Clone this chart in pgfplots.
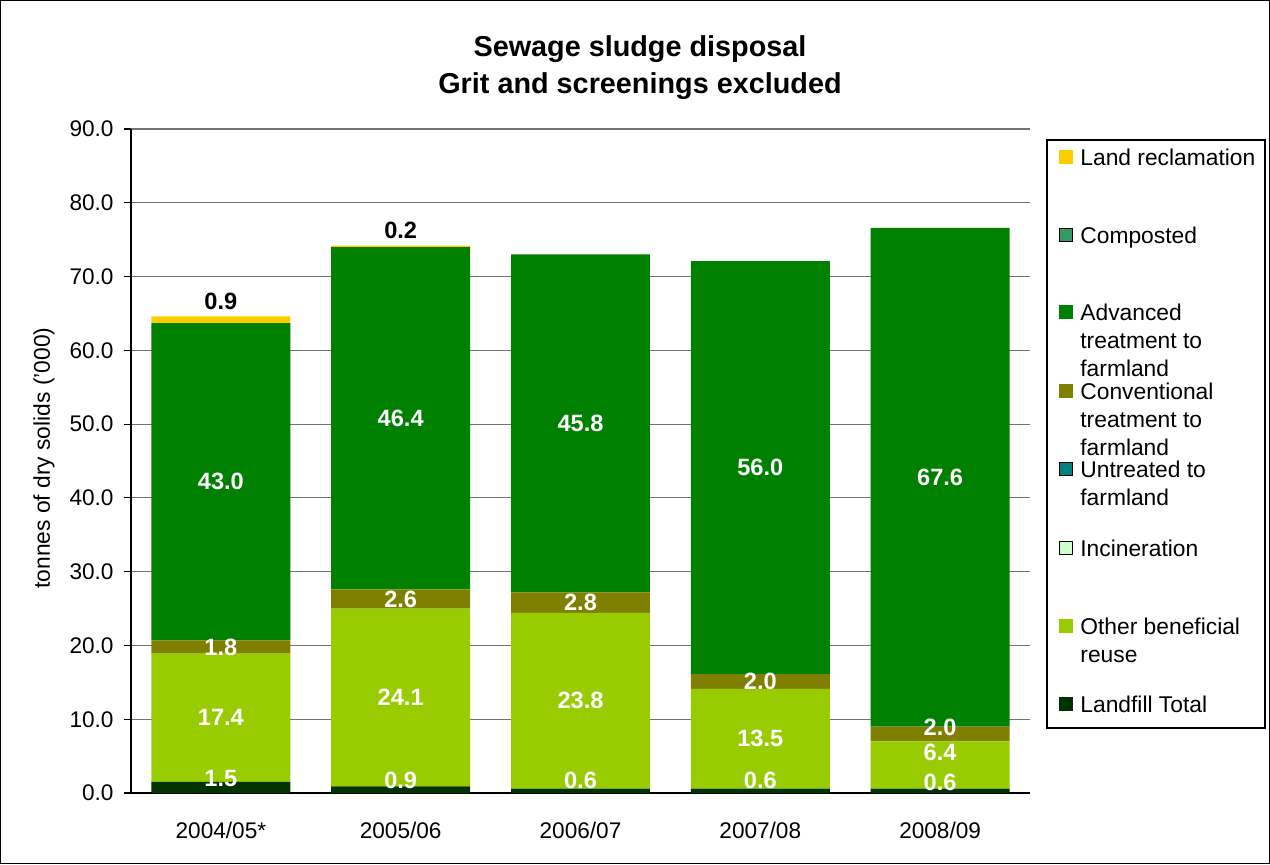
\documentclass[border=0pt]{standalone}
\usepackage{fontspec}
\setmainfont{Liberation Sans}
\usepackage{pgfplots}
\usepackage{pgfplotstable}
\pgfplotsset{compat=1.18}

\definecolor{landrec}{HTML}{FFCC00}
\definecolor{compost}{HTML}{339966}
\definecolor{advanced}{HTML}{008000}
\definecolor{conv}{HTML}{808000}
\definecolor{untreated}{HTML}{008080}
\definecolor{incin}{HTML}{CCFFCC}
\definecolor{otherreuse}{HTML}{99CC00}
\definecolor{landfill}{HTML}{003300}

% tonnes of dry solids ('000), bottom to top of each stack
\pgfplotstableread{
x landfill other incin untreated conv adv compost landrec
0 1.5 17.4 0 0 1.8 43.0 0 0.9
1 0.9 24.1 0 0 2.6 46.4 0 0.2
2 0.6 23.8 0 0 2.8 45.8 0 0.0
3 0.6 13.5 0 0 2.0 56.0 0 0.0
4 0.6  6.4 0 0 2.0 67.6 0 0.0
}\sludge

% data label positions (as Excel placed them)
\pgfplotstableread{
x y l
0 2.0 1.5
0 10.2 17.4
0 19.8 1.8
0 42.2 43.0
1 1.75 0.9
1 12.95 24.1
1 26.3 2.6
1 50.8 46.4
2 1.75 0.6
2 12.5 23.8
2 25.8 2.8
2 50.1 45.8
3 1.75 0.6
3 7.35 13.5
3 15.1 2.0
3 44.1 56.0
4 1.5 0.6
4 5.5 6.4
4 8.9 2.0
4 42.8 67.6
}\whitelabels

\pgfplotstableread{
x y l
0 66.6 0.9
1 76.2 0.2
}\toplabels

\begin{document}
\begin{tikzpicture}
  \useasboundingbox (0,0) rectangle (635pt,432pt);
  \draw[black, line width=0.6pt] (0.3pt,0.3pt) rectangle (634.7pt,431.7pt);

  \pgfplotsset{sludgeaxis/.style={
      at={(65.5pt,35.5pt)}, anchor=south west,
      scale only axis, width=449.5pt, height=332pt,
      xmin=-0.5, xmax=4.5, ymin=0, ymax=90,
  }}

  \begin{axis}[
    sludgeaxis,
    ybar stacked,
    bar width=0.773,
    axis x line*=bottom,
    axis y line*=left,
    axis line style={black, line width=0.6pt},
    xtick={0,1,2,3,4},
    xticklabels={2004/05*,2005/06,2006/07,2007/08,2008/09},
    minor xtick={-0.5,0.5,1.5,2.5,3.5,4.5},
    xtick style={draw=none},
    minor tick style={black, line width=0.6pt},
    minor tick length=3.5pt,
    ytick={0,10,...,90},
    ytick style={black, line width=0.6pt},
    major tick length=3.5pt,
    tick align=outside,
    ymajorgrids,
    grid style={black!55, line width=0.6pt},
    ticklabel style={font=\fontsize{11.3}{13}\selectfont},
    xticklabel style={yshift=-7.5pt},
    yticklabel style={xshift=-1.7pt},
    /pgf/number format/assume math mode=true,
    yticklabel style={/pgf/number format/.cd, fixed, fixed zerofill, precision=1},
  ]
    \addplot[fill=landfill, draw=none] table[x=x, y=landfill] {\sludge};
    \addplot[fill=otherreuse, draw=none] table[x=x, y=other] {\sludge};
    \addplot[fill=incin, draw=none] table[x=x, y=incin] {\sludge};
    \addplot[fill=untreated, draw=none] table[x=x, y=untreated] {\sludge};
    \addplot[fill=conv, draw=none] table[x=x, y=conv] {\sludge};
    \addplot[fill=advanced, draw=none] table[x=x, y=adv] {\sludge};
    \addplot[fill=compost, draw=none] table[x=x, y=compost] {\sludge};
    \addplot[fill=landrec, draw=none] table[x=x, y=landrec] {\sludge};
  \end{axis}

  \begin{axis}[
    sludgeaxis,
    hide axis,
    clip=false,
  ]
    \addplot[only marks, mark=none, nodes near coords, point meta=explicit symbolic,
      every node near coord/.append style={anchor=center, inner sep=0pt,
        text=white, font=\bfseries\fontsize{11.8}{13}\selectfont}]
      table[x=x, y=y, meta=l] {\whitelabels};
    \addplot[only marks, mark=none, nodes near coords, point meta=explicit symbolic,
      every node near coord/.append style={anchor=center, inner sep=0pt,
        text=black, font=\bfseries\fontsize{11.8}{13}\selectfont}]
      table[x=x, y=y, meta=l] {\toplabels};
  \end{axis}

  % y axis title
  \node[rotate=90, anchor=center, inner sep=0pt, font=\fontsize{11.4}{13}\selectfont]
    at (22pt,203pt) {tonnes of dry solids ('000)};

  % title
  \node[font=\bfseries\fontsize{14.4}{18.5}\selectfont, align=center, anchor=center]
    at (320pt,398pt) {Sewage sludge disposal\\Grit and screenings excluded};

  % legend
  \draw[black, line width=0.6pt] (523.5pt,68pt) rectangle (632.5pt,362pt);
  \begin{scope}[every node/.style={anchor=north west, inner sep=0pt, align=left,
      font=\fontsize{11.4}{14}\selectfont}]
    \foreach \yc/\col/\bord/\txt in {
        353.5/landrec/landrec/{Land reclamation},
        314.5/compost/black/{Composted},
        276/advanced/advanced/{Advanced\\treatment to\\farmland},
        236.5/conv/conv/{Conventional\\treatment to\\farmland},
        197.5/untreated/black/{Untreated to\\farmland},
        158/incin/black/{Incineration},
        119/otherreuse/otherreuse/{Other beneficial\\reuse},
        80/landfill/landfill/{Landfill Total}} {
      \filldraw[fill=\col, draw=\bord, line width=0.5pt]
        (529.6pt,\yc pt-3.4pt) rectangle (536.4pt,\yc pt+3.4pt);
      \node at (540pt,\yc pt+4.2pt) {\txt};
    }
  \end{scope}
\end{tikzpicture}
\end{document}
